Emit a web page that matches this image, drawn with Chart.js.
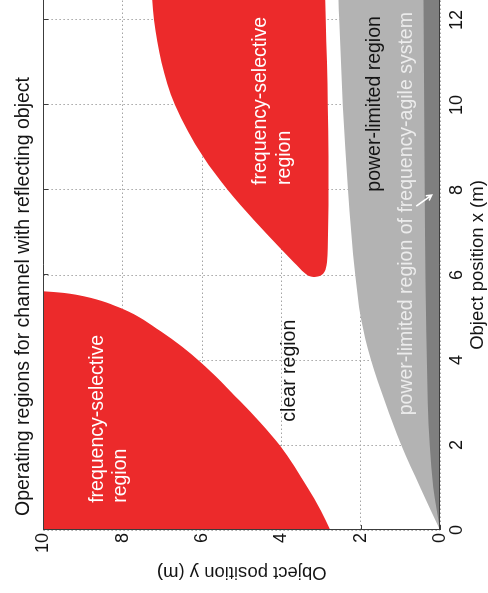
<!DOCTYPE html>
<html>
<head>
<meta charset="utf-8">
<script src="https://cdn.jsdelivr.net/npm/chart.js@4.4.0/dist/chart.umd.min.js"></script>
<style>
  html, body { margin: 0; padding: 0; background: #fff; overflow: hidden; }
  /* the figure is drawn upright and then turned a quarter turn to the left */
  #wrap { position: absolute; left: 0; top: 0; width: 593px; height: 488px;
          transform-origin: 0 0; transform: translateY(593px) rotate(-90deg); }
</style>
</head>
<body>
<div id="wrap"><canvas id="regions" width="593" height="488"></canvas></div>
<script>
// Operating regions for a channel with a reflecting object

// tick values
const xTicks = [0, 2, 4, 6, 8, 10, 12];
const yTicks = [0, 2, 4, 6, 8, 10];

// power-limited region of the frequency-agile system (dark band)
const agileX = [0, 1, 2, 3, 4.7, 7, 13];
const agileY = [0, 0.17, 0.26, 0.31, 0.35, 0.38, 0.42];

// power-limited region (light grey, below the curve)
const powerX = [0, 1, 2, 3, 4, 5, 6, 7, 8, 10, 12, 13];
const powerY = [0, 0.5, 0.98, 1.38, 1.74, 2.0, 2.14, 2.24, 2.32, 2.45, 2.54, 2.58];

// frequency-selective region near the origin (above the curve)
const selLowX = [0, 0.45, 1.03, 1.98, 2.53, 3.03, 3.96, 4.68, 5.21, 5.5, 5.58, 5.62];
const selLowY = [2.77, 3.0, 3.36, 4.03, 4.53, 5.04, 6.05, 7.05, 8.02, 8.98, 9.5, 10];

// frequency-selective region further out (between two curves)
const selFarX = [5.95, 5.97, 6.0, 6.05, 6.15, 6.3, 6.63, 7.29, 8.0, 8.78, 10, 11, 12, 13];
const selFarTop = [3.18, 3.28, 3.35, 3.42, 3.53, 3.69, 4.03, 4.69, 5.35, 5.97, 6.68, 7.02, 7.21, 7.3];
const selFarBot = [3.18, 3.06, 2.99, 2.93, 2.88, 2.85, 2.83, 2.82, 2.81, 2.81, 2.83, 2.85, 2.88, 2.91];

const FONT = "'Liberation Sans', Arial, sans-serif";
const INK = '#141414';
const FRAME = '#3c3c3c';
const RED = '#ec2a2b';

function pts(xs, ys) {
  return xs.map((x, i) => ({ x: x, y: ys[i] }));
}

// text placed in the plot (anchored at its left end, vertical centre)
const notes = [
  { text: 'frequency-selective', at: [0.64, 8.64], color: '#ffffff' },
  { text: 'region', at: [0.64, 8.06], color: '#ffffff' },
  { text: 'frequency-selective', at: [8.12, 4.52], color: '#ffffff' },
  { text: 'region', at: [8.12, 3.93], color: '#ffffff' },
  { text: 'clear region', at: [2.55, 3.78], color: INK },
  { text: 'power-limited region', at: [7.96, 1.66], color: INK },
  { text: 'power-limited region of frequency-agile system', at: [2.7, 0.84], color: '#ececec' }
];
const arrowFrom = [7.62, 0.6];
const arrowTo = [7.88, 0.21];

// inward tick marks under the data
const tickMarks = {
  id: 'tickMarks',
  beforeDatasetsDraw(chart) {
    const { ctx, chartArea: a, scales: { x, y } } = chart;
    ctx.save();
    ctx.strokeStyle = FRAME;
    ctx.lineWidth = 1;
    ctx.beginPath();
    xTicks.forEach(v => {
      const px = Math.round(x.getPixelForValue(v)) + 0.5;
      ctx.moveTo(px, a.top); ctx.lineTo(px, a.top + 5);
      ctx.moveTo(px, a.bottom); ctx.lineTo(px, a.bottom - 5);
    });
    yTicks.forEach(v => {
      const py = Math.round(y.getPixelForValue(v)) + 0.5;
      ctx.moveTo(a.left, py); ctx.lineTo(a.left + 5, py);
    });
    ctx.stroke();
    ctx.restore();
  }
};

// box round the plot and the labels inside it
const frameAndNotes = {
  id: 'frameAndNotes',
  afterDatasetsDraw(chart) {
    const { ctx, chartArea: a, scales: { x, y } } = chart;
    ctx.save();
    ctx.strokeStyle = FRAME;
    ctx.lineWidth = 1;
    const l = Math.round(a.left) + 0.5, t = Math.round(a.top) + 0.5, b = Math.round(a.bottom) - 0.5;
    ctx.beginPath();
    ctx.moveTo(a.right + 2, t); ctx.lineTo(l, t); ctx.lineTo(l, b); ctx.lineTo(a.right + 2, b);
    ctx.stroke();

    ctx.font = '19.5px ' + FONT;
    ctx.textAlign = 'left';
    ctx.textBaseline = 'middle';
    notes.forEach(n => {
      ctx.fillStyle = n.color;
      ctx.fillText(n.text, x.getPixelForValue(n.at[0]), y.getPixelForValue(n.at[1]));
    });

    // small white arrow pointing into the dark band
    const x0 = x.getPixelForValue(arrowFrom[0]), y0 = y.getPixelForValue(arrowFrom[1]);
    const x1 = x.getPixelForValue(arrowTo[0]), y1 = y.getPixelForValue(arrowTo[1]);
    const ang = Math.atan2(y1 - y0, x1 - x0);
    ctx.strokeStyle = '#ffffff';
    ctx.lineWidth = 1.6;
    ctx.beginPath();
    ctx.moveTo(x0, y0); ctx.lineTo(x1, y1);
    ctx.moveTo(x1 - 6 * Math.cos(ang - 0.5), y1 - 6 * Math.sin(ang - 0.5));
    ctx.lineTo(x1, y1);
    ctx.lineTo(x1 - 6 * Math.cos(ang + 0.5), y1 - 6 * Math.sin(ang + 0.5));
    ctx.stroke();
    ctx.restore();
  }
};

const area = (data, fill, color, order) => ({
  data: data,
  fill: fill,
  backgroundColor: color,
  borderColor: 'rgba(0,0,0,0)',
  borderWidth: 0,
  pointRadius: 0,
  cubicInterpolationMode: 'monotone',
  order: order
});

new Chart(document.getElementById('regions'), {
  type: 'line',
  data: {
    datasets: [
      area(pts(agileX, agileY), 'origin', '#7f7f7f', 0),
      area(pts(powerX, powerY), 'origin', '#b3b3b3', 1),
      area(pts(selLowX, selLowY), 'end', RED, 2),
      area(pts(selFarX, selFarBot), false, 'rgba(0,0,0,0)', 3),
      area(pts(selFarX, selFarTop), '-1', RED, 4)
    ]
  },
  options: {
    responsive: false,
    animation: false,
    events: [],
    layout: { padding: 0 },
    plugins: {
      legend: { display: false },
      tooltip: { enabled: false },
      title: {
        display: true,
        text: 'Operating regions for channel with reflecting object',
        color: INK,
        font: { family: FONT, size: 19.5, weight: 'normal', lineHeight: 1.2 },
        padding: { top: 12, bottom: 8 }
      }
    },
    scales: {
      x: {
        type: 'linear',
        min: 0,
        max: 12.47,
        afterBuildTicks: s => { s.ticks = xTicks.map(v => ({ value: v })); },
        grid: { color: '#a4a4a4', drawTicks: false, tickLength: 0 },
        border: { display: false, dash: [1.5, 2.5] },
        ticks: { padding: 5.7, color: INK, maxRotation: 0, font: { family: FONT, size: 18, lineHeight: 1.2 } },
        title: {
          display: true,
          text: 'Object position x (m)',
          color: INK,
          padding: { top: -5.4, bottom: 0 },
          font: { family: FONT, size: 18.5, lineHeight: 1.1 }
        }
      },
      y: {
        type: 'linear',
        min: 0,
        max: 10,
        afterBuildTicks: s => { s.ticks = yTicks.map(v => ({ value: v })); },
        grid: { color: '#a4a4a4', drawTicks: false, tickLength: 0 },
        border: { display: false, dash: [1.5, 2.5] },
        ticks: { padding: 3, color: INK, font: { family: FONT, size: 18, lineHeight: 1.2 } },
        title: {
          display: true,
          text: 'Object position y (m)',
          color: INK,
          padding: { top: 10.8, bottom: 5.8 },
          font: { family: FONT, size: 18.5, lineHeight: 1.1 }
        }
      }
    }
  },
  plugins: [tickMarks, frameAndNotes]
});
</script>
</body>
</html>
